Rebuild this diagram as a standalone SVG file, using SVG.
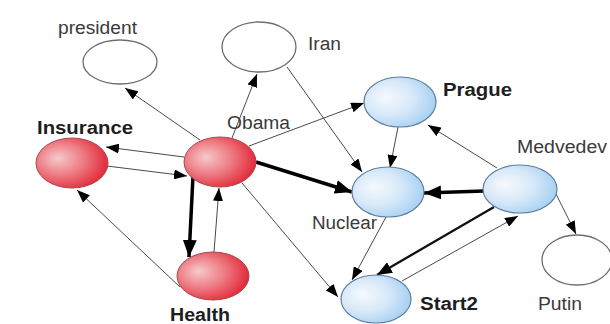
<svg xmlns="http://www.w3.org/2000/svg" width="610" height="324" viewBox="0 0 610 324">
  <style>
    .lbl { font-family: "Liberation Sans", Arial, sans-serif; font-size: 18px; fill: #3a3a3a; }
    .bold { font-weight: bold; fill: #1e1e1e; }
    .plain { fill: #ffffff; stroke: #6e6e6e; stroke-width: 1.3; }
    .red { fill: url(#gRed); stroke: #a3484f; stroke-width: 1; }
    .blue { fill: url(#gBlue); stroke: #5f7f9e; stroke-width: 1.2; }
    .thin { stroke: #4a4a4a; stroke-width: 1; fill: none; marker-end: url(#ahThin); }
    .thick { stroke: #000; stroke-width: 3.5; fill: none; marker-end: url(#ahThick); }
    .mid { stroke: #111; stroke-width: 2.3; fill: none; marker-end: url(#ahMid); }
  </style>
  <defs>
    <radialGradient id="gRed" cx="0.38" cy="0.45" r="0.7" fx="0.3" fy="0.4">
      <stop offset="0" stop-color="#f6cacb"/>
      <stop offset="0.45" stop-color="#ee7e86"/>
      <stop offset="1" stop-color="#e0182a"/>
    </radialGradient>
    <radialGradient id="gBlue" cx="0.38" cy="0.45" r="0.7" fx="0.3" fy="0.4">
      <stop offset="0" stop-color="#f6f9fd"/>
      <stop offset="0.5" stop-color="#d6e8f8"/>
      <stop offset="1" stop-color="#9ccbf2"/>
    </radialGradient>
    <marker id="ahThin" markerUnits="userSpaceOnUse" markerWidth="14" markerHeight="10" refX="13" refY="5" orient="auto">
      <path d="M0,0 L13,5 L0,10 z" fill="#000"/>
    </marker>
    <marker id="ahMid" markerUnits="userSpaceOnUse" markerWidth="16" markerHeight="12" refX="15" refY="6" orient="auto">
      <path d="M0,0 L15,6 L0,12 z" fill="#000"/>
    </marker>
    <marker id="ahThick" markerUnits="userSpaceOnUse" markerWidth="18" markerHeight="14" refX="17" refY="7" orient="auto">
      <path d="M0,0 L17,7 L0,14 z" fill="#000"/>
    </marker>
  </defs>

  <rect width="610" height="324" fill="#ffffff"/>

  <!-- connectors -->
  <g id="edges">
    <line class="thin" x1="200" y1="140" x2="125" y2="88"/>
    <line class="thin" x1="232" y1="138" x2="257" y2="74"/>
    <line class="thin" x1="184" y1="157" x2="106" y2="147"/>
    <line class="thin" x1="107" y1="166" x2="187" y2="176"/>
    <line class="thick" x1="193" y1="176" x2="189" y2="257"/>
    <line class="thin" x1="214" y1="252" x2="219" y2="188"/>
    <line class="thin" x1="180" y1="287" x2="77" y2="190"/>
    <line class="thin" x1="249" y1="146" x2="364" y2="103"/>
    <line class="thick" x1="256" y1="162" x2="352" y2="192"/>
    <line class="thin" x1="242" y1="183" x2="338" y2="297"/>
    <line class="thin" x1="287" y1="67" x2="362" y2="172"/>
    <line class="thin" x1="398" y1="127" x2="390" y2="168"/>
    <line class="thin" x1="497" y1="168" x2="428" y2="125"/>
    <line class="thick" x1="484" y1="191" x2="424" y2="193"/>
    <line class="thin" x1="555" y1="192" x2="576" y2="234"/>
    <line class="mid" x1="494" y1="207" x2="377" y2="275"/>
    <line class="thin" x1="402" y1="281" x2="518" y2="216"/>
    <line class="thin" x1="386" y1="217" x2="352" y2="280"/>
  </g>

  <!-- nodes -->
  <g id="president">
    <ellipse class="plain" cx="120" cy="62" rx="37" ry="22"/>
    <text class="lbl" x="58" y="34" textLength="79" lengthAdjust="spacingAndGlyphs">president</text>
  </g>
  <g id="iran">
    <ellipse class="plain" cx="259" cy="47" rx="37" ry="25"/>
    <text class="lbl" x="308" y="50" textLength="33" lengthAdjust="spacingAndGlyphs">Iran</text>
  </g>
  <g id="insurance">
    <ellipse class="red" cx="72" cy="163" rx="36" ry="25"/>
    <text class="lbl bold" x="37" y="134" textLength="96" lengthAdjust="spacingAndGlyphs">Insurance</text>
  </g>
  <g id="obama">
    <ellipse class="red" cx="220" cy="162" rx="36" ry="25"/>
    <text class="lbl" x="227" y="129" textLength="63" lengthAdjust="spacingAndGlyphs">Obama</text>
  </g>
  <g id="health">
    <ellipse class="red" cx="213" cy="276" rx="36" ry="24"/>
    <text class="lbl bold" x="170" y="321" textLength="60" lengthAdjust="spacingAndGlyphs">Health</text>
  </g>
  <g id="prague">
    <ellipse class="blue" cx="400" cy="102" rx="36" ry="25"/>
    <text class="lbl bold" x="443" y="96" textLength="69" lengthAdjust="spacingAndGlyphs">Prague</text>
  </g>
  <g id="nuclear">
    <ellipse class="blue" cx="388" cy="192" rx="36" ry="25"/>
    <text class="lbl" x="312" y="229" textLength="65" lengthAdjust="spacingAndGlyphs">Nuclear</text>
  </g>
  <g id="medvedev">
    <ellipse class="blue" cx="520" cy="189" rx="37" ry="24"/>
    <text class="lbl" x="517" y="153" textLength="90" lengthAdjust="spacingAndGlyphs">Medvedev</text>
  </g>
  <g id="putin">
    <ellipse class="plain" cx="577" cy="260" rx="35" ry="25"/>
    <text class="lbl" x="538" y="310" textLength="44" lengthAdjust="spacingAndGlyphs">Putin</text>
  </g>
  <g id="start2">
    <ellipse class="blue" cx="376" cy="299" rx="35" ry="24"/>
    <text class="lbl bold" x="420" y="310" textLength="58" lengthAdjust="spacingAndGlyphs">Start2</text>
  </g>
</svg>
